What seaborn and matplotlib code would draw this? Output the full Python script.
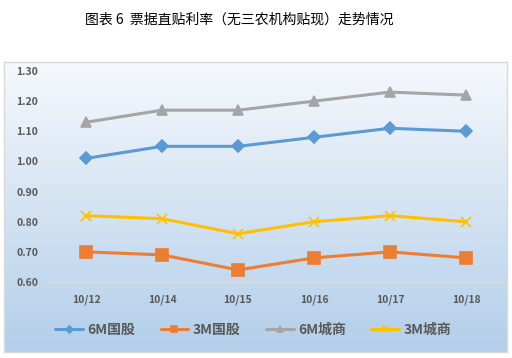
import numpy as np
import pandas as pd
import matplotlib
matplotlib.use("Agg")
import matplotlib.pyplot as plt
import seaborn as sns

sns.set_style("white")
plt.rcParams['font.family'] = ['Noto Sans CJK SC', 'DejaVu Sans']

dates = ['10/12', '10/14', '10/15', '10/16', '10/17', '10/18']
gg_6m = [1.01, 1.05, 1.05, 1.08, 1.11, 1.10]
gg_3m = [0.70, 0.69, 0.64, 0.68, 0.70, 0.68]
cs_6m = [1.13, 1.17, 1.17, 1.20, 1.23, 1.22]
cs_3m = [0.82, 0.81, 0.76, 0.80, 0.82, 0.80]
names = ['6M国股', '3M国股', '6M城商', '3M城商']

rows = []
for name, vals in zip(names, [gg_6m, gg_3m, cs_6m, cs_3m]):
    for d, v in zip(dates, vals):
        rows.append({'date': d, 'rate': v, 'series': name})
df = pd.DataFrame(rows)

colors = {'6M国股': '#5b9bd5', '3M国股': '#ed7d31', '6M城商': '#a5a5a5', '3M城商': '#ffc000'}
markers = {'6M国股': 'D', '3M国股': 's', '6M城商': '^', '3M城商': 'x'}
msizes = {'6M国股': 6, '3M国股': 8, '6M城商': 7.5, '3M城商': 7.5}

fig = plt.figure(figsize=(5.12, 3.58), dpi=100)

# chart background box with vertical gradient
bg = fig.add_axes([4/512, 1-352/358, 503/512, 290/358])
grad = np.linspace(0, 1, 256).reshape(-1, 1)
top = np.array([0.965, 0.975, 0.99])
bot = np.array([0.70, 0.81, 0.915])
img = top + (bot - top) * grad[..., None]
bg.imshow(img, aspect='auto', extent=[0, 1, 0, 1])
bg.set_xticks([]); bg.set_yticks([])
for s in bg.spines.values():
    s.set_color('#d9d9d9')
    s.set_linewidth(1)

ax = fig.add_axes([48/512, 1-282/358, 456/512, 211/358])
ax.set_facecolor('none')
for name in names:
    sub = df[df['series'] == name]
    sns.lineplot(data=sub, x='date', y='rate', ax=ax, color=colors[name],
                 marker=markers[name], markersize=msizes[name],
                 markeredgecolor=colors[name], markeredgewidth=1.2,
                 linewidth=2.2, label=name, sort=False)

ax.set_xlim(-0.5, 5.5)
ax.set_ylim(0.60, 1.30)
ax.set_yticks(np.arange(0.60, 1.31, 0.10))
ax.set_yticklabels([f'{v:.2f}' for v in np.arange(0.60, 1.31, 0.10)])
ax.set_xlabel('')
ax.set_ylabel('')
for s in ['top', 'right', 'left']:
    ax.spines[s].set_visible(False)
ax.spines['bottom'].set_color('#d9d9d9')
ax.spines['bottom'].set_linewidth(1)
ax.tick_params(axis='both', length=0, labelsize=7.5, colors='#595959')
ax.tick_params(axis='x', pad=9)
ax.tick_params(axis='y', pad=7)
for lab in ax.get_xticklabels() + ax.get_yticklabels():
    lab.set_fontweight('bold')

leg = ax.legend(loc='upper left', bbox_to_anchor=(-0.012, -0.135), ncol=4, frameon=False,
                fontsize=10, handlelength=2.0, columnspacing=1.85, handletextpad=0.3,
                markerscale=0.6)
for t in leg.get_texts():
    t.set_color('#595959')
    t.set_fontweight('bold')

fig.text(239/512, 1-20/358, '图表 6  票据直贴利率（无三农机构贴现）走势情况',
         ha='center', va='center', fontsize=10, color='#000000')

fig.savefig('out.png', dpi=100)
